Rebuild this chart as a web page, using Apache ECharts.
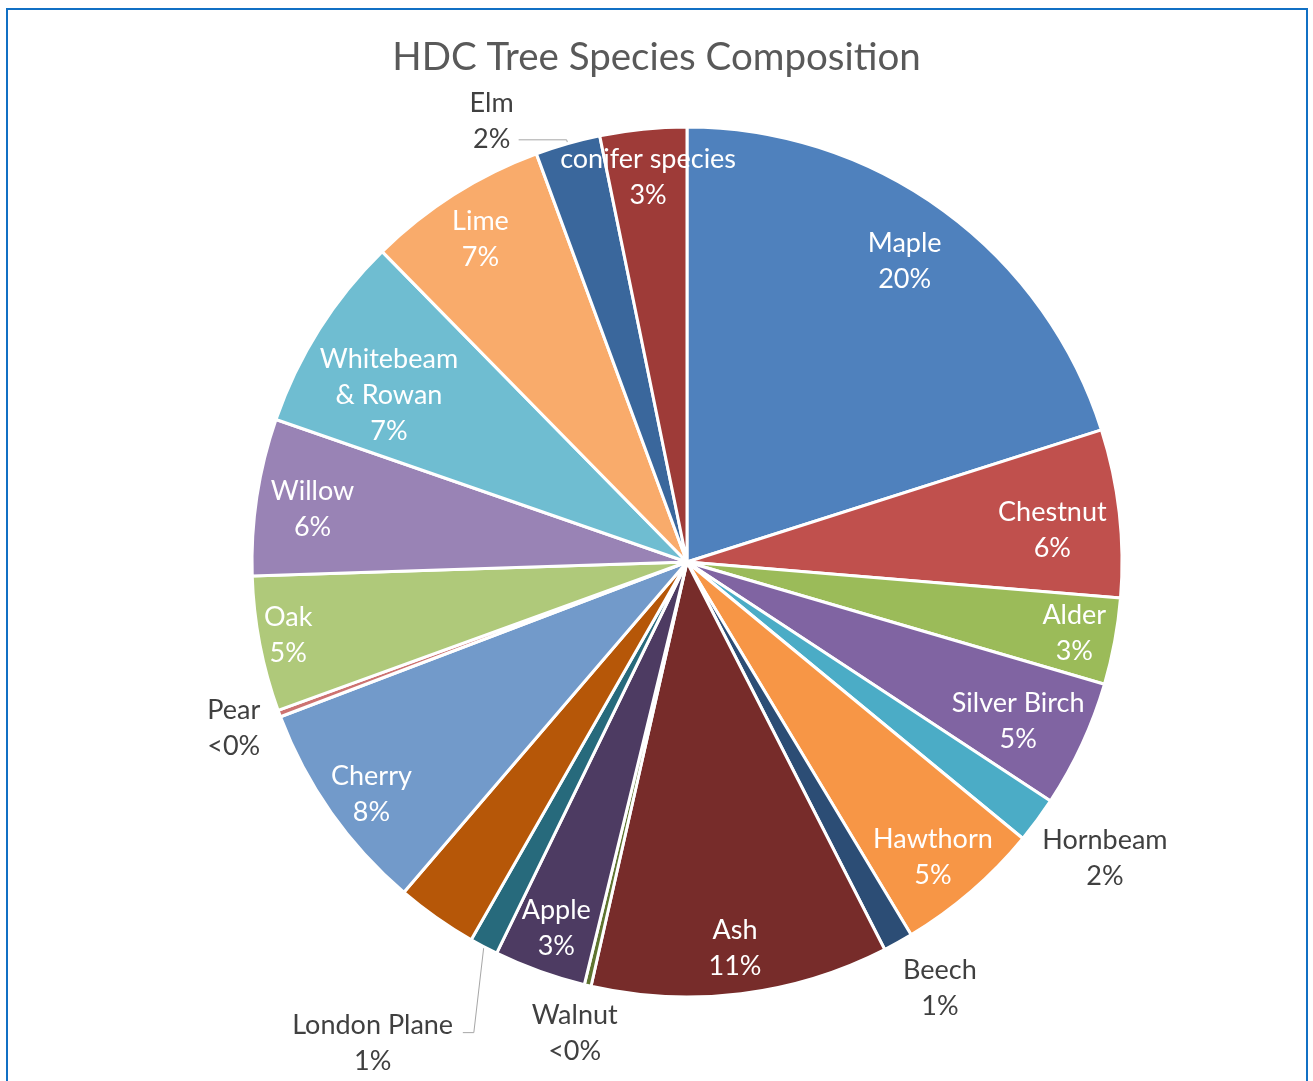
<!DOCTYPE html>
<html><head><meta charset="utf-8">
<script src="https://cdn.jsdelivr.net/npm/echarts@6/dist/echarts.min.js"></script>
<style>
html,body{margin:0;padding:0;background:#fff;overflow:hidden}
#chart{position:absolute;left:0;top:0;width:1313px;height:1081px}
#frame{position:absolute;left:6px;top:8px;width:1298px;height:1100px;border:2px solid #1170C4;pointer-events:none}
</style></head><body>
<div id="chart"></div>
<div id="frame"></div>
<script>
// ---- data (clockwise from 12 o'clock) ----
const species = ['Maple','Chestnut','Alder','Silver Birch','Hornbeam','Hawthorn','Beech','Ash','Walnut','Apple','London Plane','Other','Cherry','Pear','Oak','Willow','Whitebeam & Rowan','Lime','Elm','conifer species'];
const shares  = [20.0, 6.2, 3.2, 4.7, 1.7, 5.4, 1.1, 11.0, 0.25, 3.4, 1.05, 3.0, 7.9, 0.25, 5.0, 5.8, 7.3, 6.7, 2.4, 3.2];
const palette = ['#4F81BD','#C0504D','#9BBB59','#8064A2','#4BACC6','#F79646','#2C4D75','#772C2A','#5F7530','#4D3B62','#276A7C','#B65708','#729ACA','#CD7371','#AFC97A','#9983B5','#6FBDD1','#F9AB6B','#3A679C','#9E3B38'];
const insideLabelled  = ['Maple','Chestnut','Alder','Silver Birch','Hawthorn','Ash','Apple','Cherry','Oak','Willow','Whitebeam & Rowan','Lime','conifer species'];
const outsideLabelled = ['Hornbeam','Beech','Walnut','London Plane','Pear','Elm'];

// ---- label placement tweaks (style only) ----
const outerTweaks = {
  'Elm':          { line: true,  length: 4,  length2: 48, padding: [0,0,38,0] },
  'London Plane': { line: true,  length: 55, length2: 0,  padding: [96,0,0,0], bend: [[-10, 86], [-21, 86]] },
  'Pear':         { line: false, length: 0,  length2: 14, padding: [30,0,0,0] },
  'Hornbeam':     { line: false, length: 0,  length2: 0,  padding: [76,0,0,0] },
  'Beech':        { line: false, length: 0,  length2: 0,  padding: [92,0,0,0] },
  'Walnut':       { line: false, length: 0,  length2: 8,  padding: [96,0,0,0], align: 'center' }
};
const innerTweaks = {
  'Maple': [22,20,0,0], 'Chestnut': [24,36,0,0], 'Cherry': [20,0,0,0], 'Alder': [2,0,0,16],
  'Whitebeam & Rowan': [80,0,0,56], 'Oak': [0,40,0,0], 'Silver Birch': [0,38,6,0],
  'Willow': [10,0,0,14], 'conifer species': [0,0,2,0], 'Hawthorn': [6,12,0,0]
};
const innerDefaultPad = [6,0,0,0];

const FONT = 'Lato';
const LABEL_SIZE = 27, LINE_H = 36;
const CENTER = [687, 562], R = 435;

function pctText(p) { const r = Math.round(p); return r === 0 ? '<0%' : r + '%'; }
function labelText(params) {
  const lines = params.name.replace(' & ', '\n& ').split('\n');
  lines.push(pctText(params.percent));
  return lines.map(l => '{a|' + l + '}').join('\n');
}
const rich = { a: { align: 'center', lineHeight: LINE_H, fontSize: LABEL_SIZE, fontFamily: FONT } };

const mainData = species.map((n, i) => {
  const t = outerTweaks[n];
  const item = { name: n, value: shares[i], itemStyle: { color: palette[i] } };
  if (t) {
    item.label = { show: true, position: 'outside', padding: t.padding };
    item.labelLine = { show: t.line, length: t.length, length2: t.length2 };
  } else {
    item.label = { show: false };
    item.labelLine = { show: false };
  }
  return item;
});
const ringData = species.map((n, i) => ({
  name: n, value: shares[i],
  label: insideLabelled.includes(n) ? { show: true, padding: innerTweaks[n] || innerDefaultPad } : { show: false }
}));

const chart = echarts.init(document.getElementById('chart'), null, { renderer: 'canvas' });
chart.setOption({
  backgroundColor: '#ffffff',
  animation: false,
  title: {
    text: 'HDC Tree Species Composition', left: 'center', top: 33,
    textStyle: { fontFamily: FONT, fontSize: 38.5, fontWeight: 'normal', color: '#595959' }
  },
  series: [
    {
      type: 'pie', center: CENTER, radius: [0, R], startAngle: 90, clockwise: true,
      avoidLabelOverlap: false, silent: true,
      itemStyle: { borderColor: '#ffffff', borderWidth: 3 },
      label: { fontFamily: FONT, fontSize: LABEL_SIZE, color: '#404040', formatter: labelText, rich: rich, overflow: 'none' },
      labelLine: { lineStyle: { color: '#A6A6A6', width: 1 } },
      labelLayout: function (p) {
        const t = outerTweaks[species[p.dataIndex]];
        const out = {};
        if (!t) return out;
        if (t.align) out.align = t.align;
        if (t.bend && p.labelLinePoints && p.labelLinePoints.length) {
          const a = p.labelLinePoints[0];
          out.labelLinePoints = [[a[0], a[1]]].concat(t.bend.map(d => [a[0] + d[0], a[1] + d[1]]));
        }
        return out;
      },
      emphasis: { disabled: true },
      data: mainData
    },
    {
      type: 'pie', center: CENTER, radius: [R * 0.76, R], startAngle: 90, clockwise: true,
      avoidLabelOverlap: false, silent: true,
      itemStyle: { color: 'rgba(0,0,0,0)', borderWidth: 0 },
      label: { position: 'inside', fontFamily: FONT, fontSize: LABEL_SIZE, color: '#ffffff', formatter: labelText, rich: rich, overflow: 'none', width: 300 },
      labelLine: { show: false },
      emphasis: { disabled: true },
      data: ringData
    }
  ]
});
</script>
</body></html>
